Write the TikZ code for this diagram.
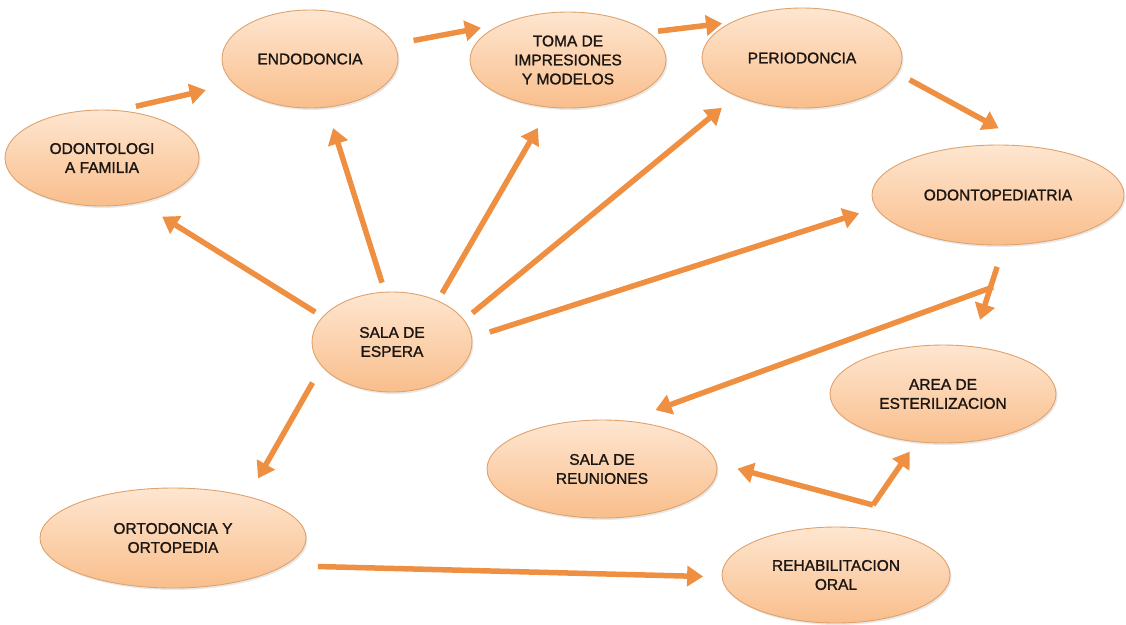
\documentclass[tikz,border=0pt]{standalone}
\usepackage{fontspec}
\setmainfont{Liberation Sans}
\newfontfamily\roomfont{Liberation Sans}[FakeBold=1.3]
\usetikzlibrary{shapes.geometric,arrows.meta,shadows}
\definecolor{arrowc}{RGB}{239,143,66}
\definecolor{elltop}{RGB}{254,230,208}
\definecolor{ellbot}{RGB}{249,190,140}
\definecolor{elldraw}{RGB}{224,162,108}
\definecolor{txt}{RGB}{28,22,18}
\tikzset{
  room/.style={ellipse, draw=elldraw, line width=0.9pt, top color=elltop, bottom color=ellbot,
    inner sep=0pt, outer sep=0pt, align=center, text=txt,
    font=\roomfont\fontsize{15.5}{19}\selectfont,
    drop shadow={opacity=0.18, shadow xshift=1.5pt, shadow yshift=-2pt}},
  arr/.style={draw=arrowc, line width=5.5pt, -{Triangle[width=20pt,length=16pt]}}
}
\begin{document}
\begin{tikzpicture}[x=1pt,y=-1pt]
\useasboundingbox[fill=white] (0,0) rectangle (1126,624);
% nodes
\node[room, minimum width=194pt, minimum height=96pt]  (odf) at (102,158) {ODONTOLOGI\\A FAMILIA};
\node[room, minimum width=176pt, minimum height=98pt]  (endo) at (310,59) {ENDODONCIA};
\node[room, minimum width=196pt, minimum height=96pt]  (toma) at (568,60) {TOMA DE\\IMPRESIONES\\Y MODELOS};
\node[room, minimum width=200pt, minimum height=100pt] (perio) at (802,58) {PERIODONCIA};
\node[room, minimum width=252pt, minimum height=100pt] (oped) at (998,195) {ODONTOPEDIATRIA};
\node[room, minimum width=160pt, minimum height=100pt] (sala) at (392,342) {SALA DE\\ESPERA};
\node[room, minimum width=226pt, minimum height=98pt]  (area) at (943,394) {AREA DE\\ESTERILIZACION};
\node[room, minimum width=230pt, minimum height=98pt]  (reun) at (602,469) {SALA DE\\REUNIONES};
\node[room, minimum width=266pt, minimum height=100pt] (orto) at (173,538) {ORTODONCIA Y\\ORTOPEDIA};
\node[room, minimum width=228pt, minimum height=96pt]  (rehab) at (836,575) {REHABILITACION\\ORAL};
% free ends
\coordinate (k) at (993,287);
\coordinate (j) at (873,505);
% connectors
\draw[arr, shorten <=19pt, shorten >=29pt] (odf.72) -- (endo.198);
\draw[arr, shorten <=20pt, shorten >=24pt] (endo.10.5) -- (toma.150.5);
\draw[arr, shorten <=10pt, shorten >=10pt] (toma.19.5) -- (perio.153);
\draw[arr, shorten <=14pt, shorten >=39pt] (perio.-9) -- (oped.54);
\draw[arr, shorten <=9pt, shorten >=27pt] (sala.160) -- (odf.-50.6);
\draw[arr, shorten <=10pt, shorten >=22pt] (sala.98) -- (endo.-71.2);
\draw[arr, shorten <=9pt, shorten >=24pt] (sala.42.2) -- (toma.249.2);
\draw[arr, shorten <=11pt, shorten >=19pt] (sala.17.8) -- (perio.210.6);
\draw[arr, shorten <=19pt, shorten >=18pt] (sala.3) -- (oped.186.9);
\draw[arr, shorten <=19pt, shorten >=21pt] (sala.199.6) -- (orto.29.7);
\draw[arr, shorten <=34pt, shorten >=19pt] (orto.-14.3) -- (rehab.181.8);
\draw[arr, shorten <=23pt, shorten >=28pt] (oped.-83) -- (area.59);
\draw[arr, shorten >=32pt] (k) -- (reun.64.6);
\draw[arr, shorten >=22pt] (j) -- (reun.3.4);
\draw[arr, shorten >=12pt] (j) -- (area.241.6);
\end{tikzpicture}
\end{document}
